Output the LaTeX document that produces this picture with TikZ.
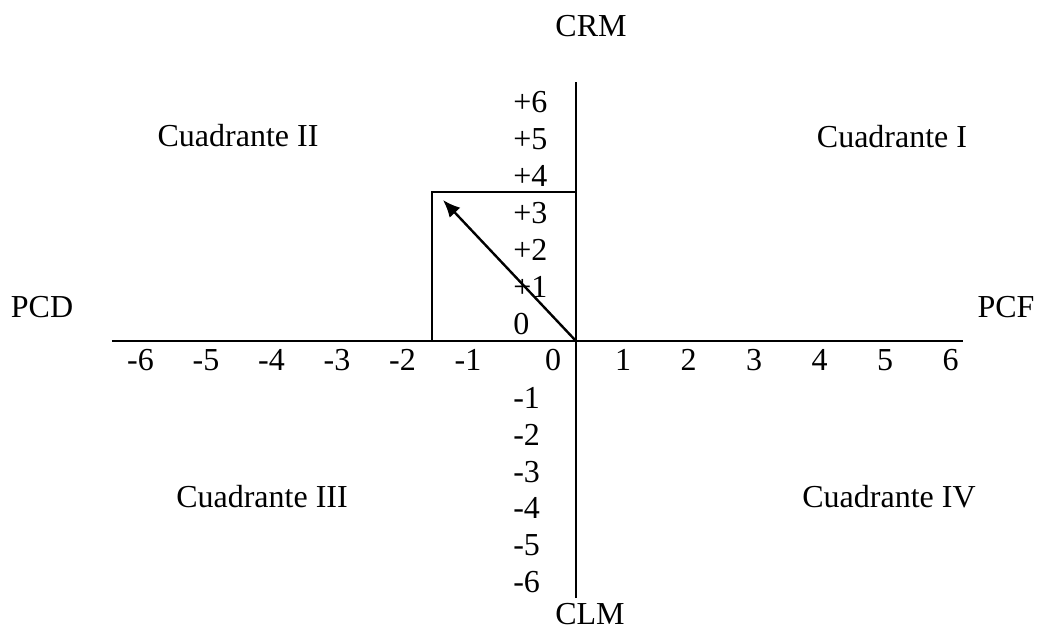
\documentclass[tikz,border=0pt]{standalone}
\usepackage{fontspec}
\setmainfont{Liberation Serif}
\usetikzlibrary{arrows.meta}

\begin{document}
\begin{tikzpicture}[x=0.75pt,y=0.75pt,
    every node/.style={inner sep=0pt,font=\fontsize{24}{28}\selectfont},
    axis/.style={line width=2.1pt},
    frame/.style={line width=1.6pt},
    vec/.style={line width=1.8pt,-{Latex[length=13pt,width=11pt]}}]
  \useasboundingbox (-576,-290) rectangle (466,341);
  % ejes
  \coordinate (O) at (0,0);
  \coordinate (W) at (-464,0);
  \coordinate (E) at (387,0);
  \coordinate (N) at (0,259);
  \coordinate (S) at (0,-257);
  \draw [axis] (W) -- (E);
  \draw [axis] (S) -- (N);
  \node (CRM) at (15,315) {CRM};
  \node (CLM) at (14,-273) {CLM};
  \node (PCD) at (-534,34) {PCD};
  \node (PCF) at (430,34) {PCF};
  % cuadrantes
  \node (Q1) at (316,204) {Cuadrante I};
  \node (Q2) at (-338,205) {Cuadrante II};
  \node (Q3) at (-314,-156) {Cuadrante III};
  \node (Q4) at (313,-156) {Cuadrante IV};
  % escalas
  \node (x0) at (-23,-19) {0};
  \foreach \k in {1,...,6}{
    \node (xm\k) at ({-42.5-65.5*\k},-19) {-\k};
    \node (xp\k) at ({-18.5+65.5*\k},-19) {\k};
  }
  \node [anchor=west] (y0) at (-63,17) {0};
  \foreach \k in {1,...,6}{
    \node [anchor=west] (yp\k) at (-63,{17+37*\k}) {+\k};
    \node [anchor=west] (ym\k) at (-63,{-20.2-36.8*\k}) {-\k};
  }
  % vector
  \coordinate (R) at (-144,149);
  \coordinate (P) at (-133,141);
  \draw [frame] (O |- R) -- (R) |- (O);
  \draw [vec] (O) -- (P);
\end{tikzpicture}
\end{document}
